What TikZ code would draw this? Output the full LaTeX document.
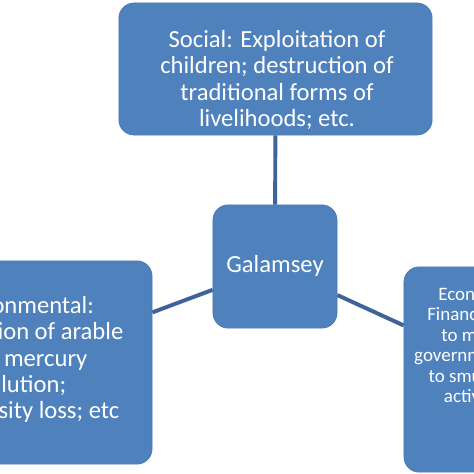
\documentclass[tikz,border=0pt]{standalone}
\usepackage{fontspec}
\setmainfont{Carlito}
\usetikzlibrary{positioning}

\definecolor{boxblue}{HTML}{4F81BD}
\definecolor{boxedge}{HTML}{4A7AB4}
\definecolor{linkblue}{HTML}{3E629A}

\begin{document}
\begin{tikzpicture}[
  x=0.025cm, y=-0.025cm,
  every node/.style={font=\fontsize{17.5}{18.6}\selectfont},
  card/.style={draw=boxedge, line width=0.5pt, fill=boxblue,
               rounded corners=0.38cm, inner sep=0pt},
  cardtext/.style={text=white, align=center, inner sep=0pt},
  link/.style={draw=linkblue, line width=2.8pt},
]

\useasboundingbox (0,0) rectangle (474,474);
\clip (0,0) rectangle (474,474);

% ---- boxes -----------------------------------------------------------
\node[card, minimum width=7.83cm, minimum height=3.3cm] (social) at (275.5,69) {};
\node[card, minimum width=3.1cm, minimum height=3.08cm] (gal) at (275,266.5) {};
\node[card, minimum width=6.7cm, minimum height=5.08cm] (env) at (18,362.5) {};
\node[card, minimum width=4.8cm, minimum height=5.13cm] (eco) at (500,369.5) {};

% ---- texts -----------------------------------------------------------
\node[cardtext] (socialtext) at (277,80)
  {Social: Exploitation of\\children; destruction of\\traditional forms of\\livelihoods; etc.};
\node[cardtext] (galtext) at (275,266) {Galamsey};
\node[cardtext] (envtext) at (18,359.5)
  {Environmental:\\Destruction of arable\\land; mercury\\pollution;\\Biodiversity loss; etc};
\node[cardtext, font=\fontsize{13.5}{14.6}\selectfont] (ecotext) at (478,345)
  {Economic:\\Financial loss\\to mining\\government due\\to smuggling\\activities};

% ---- links -----------------------------------------------------------
\draw[link] (gal) -- (social);
\draw[link] (gal) -- (env);
\draw[link] (gal) -- (eco);

\end{tikzpicture}
\end{document}
